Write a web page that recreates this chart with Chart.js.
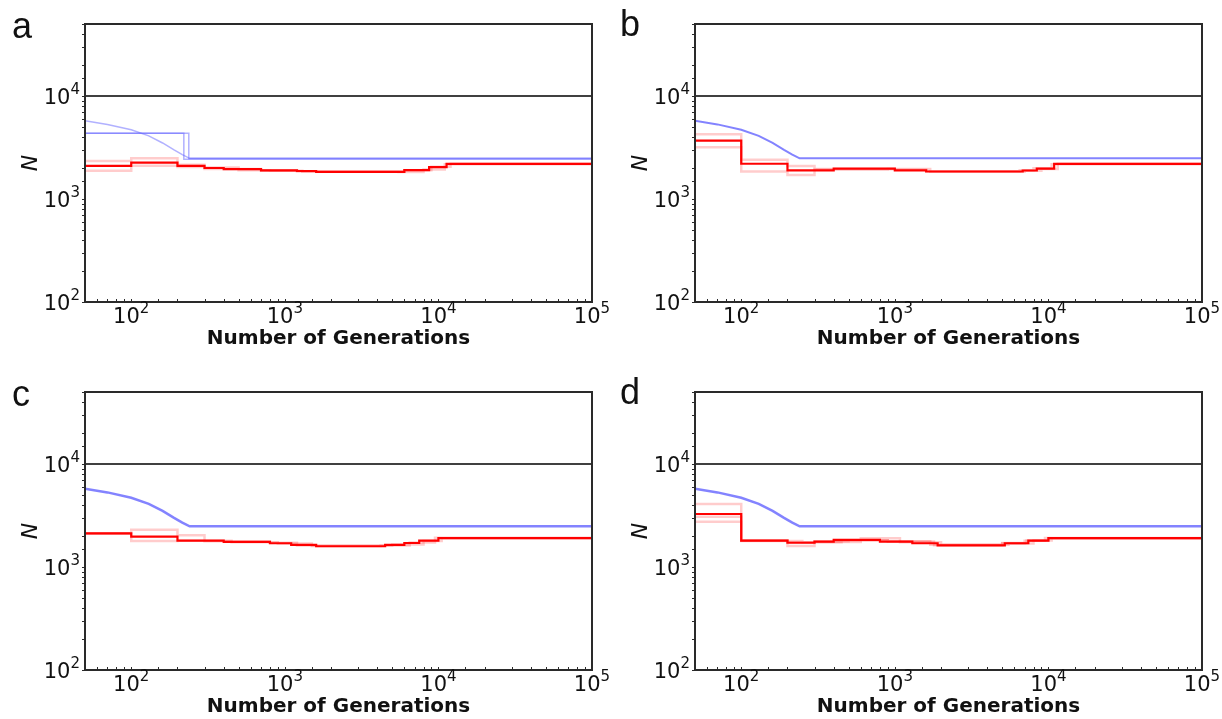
<!DOCTYPE html>
<html>
<head>
<meta charset="utf-8">
<script src="https://cdn.jsdelivr.net/npm/chart.js@4.4.1/dist/chart.umd.min.js"></script>
<style>
  body { margin: 0; background: #fff; }
  #wrap { position: relative; width: 1222px; height: 719px; overflow: hidden; }
  canvas { position: absolute; }
  .tag { position: absolute; font: 36px "Liberation Sans", Arial, sans-serif; line-height: 36px; color: #111; }
</style>
</head>
<body>
<div id="wrap">
  <canvas id="pa" width="611" height="351" style="left:0;top:0"></canvas>
  <canvas id="pb" width="611" height="351" style="left:610px;top:0"></canvas>
  <canvas id="pc" width="611" height="351" style="left:0;top:368px"></canvas>
  <canvas id="pd" width="611" height="351" style="left:610px;top:368px"></canvas>
  <div class="tag" style="left:12px;top:8px">a</div>
  <div class="tag" style="left:620px;top:6px">b</div>
  <div class="tag" style="left:12px;top:376px">c</div>
  <div class="tag" style="left:620px;top:374px">d</div>
</div>
<script>
const genMin = 50, genMax = 100000;
const nMin = 100, nMax = 50000;
const ancestralN = 10000;
const xTickPowers = [2, 3, 4, 5];
const yTickPowers = [2, 3, 4];

// true history (blue curve)
const trueGen = [50, 70, 100, 130, 160, 190, 215, 240, 100000];
const trueN = [5750, 5300, 4700, 4100, 3500, 3000, 2700, 2480, 2480];

// panel a
const aStep1Gen = [50, 220, 100000];
const aStep1N = [4350, 2430, 2430];
const aStep2Gen = [50, 237, 100000];
const aStep2N = [4350, 2470, 2470];
const aGen = [50, 100, 200, 300, 400, 700, 1200, 1600, 6000, 8700, 11300, 100000];
const aN = [2100, 2250, 2100, 2000, 1950, 1900, 1870, 1830, 1910, 2040, 2190, 2190];
const aFaint1Gen = [50, 100, 200, 300, 500, 800, 1300, 5500, 8000, 11000, 100000];
const aFaint1N = [2340, 2480, 2150, 2020, 1900, 1880, 1840, 1830, 1930, 2180, 2180];
const aFaint2Gen = [50, 100, 200, 300, 700, 1200, 6000, 9000, 12000, 100000];
const aFaint2N = [1880, 2100, 2050, 1950, 1880, 1850, 1900, 2060, 2200, 2200];

// panel b
const bGen = [50, 100, 200, 400, 1000, 1600, 6800, 8400, 10900, 100000];
const bN = [3680, 2200, 1900, 1970, 1900, 1850, 1890, 1970, 2190, 2190];
const bFaint1Gen = [50, 100, 200, 300, 1000, 1600, 6500, 8000, 10500, 100000];
const bFaint1N = [4250, 2400, 2090, 1950, 1920, 1860, 1900, 1990, 2180, 2180];
const bFaint2Gen = [50, 100, 200, 300, 900, 1700, 7000, 9000, 11500, 100000];
const bFaint2N = [3175, 1845, 1710, 1930, 1950, 1840, 1880, 1960, 2200, 2200];

// panel c
const cGen = [50, 100, 200, 400, 800, 1100, 1600, 4500, 6000, 7500, 10000, 100000];
const cN = [2120, 1970, 1800, 1750, 1700, 1640, 1590, 1640, 1710, 1800, 1910, 1910];
const cFaint1Gen = [50, 100, 200, 300, 800, 1200, 5000, 8000, 10500, 100000];
const cFaint1N = [2130, 2300, 2030, 1780, 1720, 1620, 1650, 1790, 1900, 1900];
const cFaint2Gen = [50, 100, 200, 450, 900, 1500, 4200, 6500, 9500, 100000];
const cFaint2N = [2100, 1790, 1800, 1740, 1690, 1600, 1620, 1730, 1920, 1920];

// panel d
const dGen = [50, 100, 200, 300, 400, 800, 1300, 1900, 5200, 7400, 10000, 100000];
const dN = [3270, 1800, 1720, 1760, 1830, 1760, 1700, 1625, 1700, 1800, 1910, 1910];
const dFaint1Gen = [50, 100, 200, 300, 600, 1080, 2000, 5500, 8000, 10500, 100000];
const dFaint1N = [4090, 1800, 1600, 1750, 1900, 1740, 1640, 1690, 1810, 1900, 1900];
const dFaint2Gen = [50, 100, 200, 300, 500, 900, 1800, 5000, 7000, 9500, 100000];
const dFaint2N = [2750, 1820, 1740, 1780, 1820, 1770, 1630, 1700, 1800, 1910, 1910];
const dFaint3Gen = [50, 100, 250, 450, 900, 1700, 5000, 7200, 10000, 100000];
const dFaint3N = [3080, 1790, 1740, 1820, 1780, 1640, 1710, 1810, 1900, 1900];

const RED = "#ff0000";
const PINK = "rgba(255,0,0,0.2)";
const BLUE = "rgba(100,100,255,0.8)";
const BLUE_PALE = "rgba(100,100,255,0.5)";
const TEXT = "#111";

function line(gen, n, color, width, stepped) {
  return {
    data: gen.map((g, i) => ({ x: g, y: n[i] })),
    borderColor: color,
    borderWidth: width,
    pointRadius: 0,
    fill: false,
    stepped: stepped,
  };
}

// "10" with a raised exponent
function powText(ctx, p, x, y, align) {
  ctx.font = "21px 'DejaVu Sans'";
  const w1 = ctx.measureText("10").width;
  ctx.font = "15px 'DejaVu Sans'";
  const w2 = ctx.measureText(String(p)).width;
  const x0 = align === "center" ? x - (w1 + w2) / 2 : x - w1 - w2;
  ctx.textAlign = "left";
  ctx.textBaseline = "alphabetic";
  ctx.font = "21px 'DejaVu Sans'";
  ctx.fillText("10", x0, y);
  ctx.font = "15px 'DejaVu Sans'";
  ctx.fillText(String(p), x0 + w1, y - 10);
}

const frame = {
  id: "frame",
  afterDatasetsDraw(chart) {
    const { ctx, chartArea: a } = chart;
    const x = chart.scales.x, y = chart.scales.y;
    ctx.save();
    ctx.strokeStyle = "#2a2a2a";
    ctx.lineWidth = 1;
    ctx.beginPath();
    y.ticks.forEach((t) => {
      const py = Math.round(y.getPixelForValue(t.value)) + 0.5;
      ctx.moveTo(a.left - 3, py);
      ctx.lineTo(a.left, py);
    });
    x.ticks.forEach((t) => {
      const px = Math.round(x.getPixelForValue(t.value)) + 0.5;
      ctx.moveTo(px, a.bottom);
      ctx.lineTo(px, a.bottom - 3);
    });
    ctx.stroke();
    ctx.lineWidth = 2;
    ctx.strokeRect(a.left, a.top, a.right - a.left, a.bottom - a.top);
    ctx.fillStyle = TEXT;
    xTickPowers.forEach((p) => powText(ctx, p, x.getPixelForValue(10 ** p), a.bottom + 21, "center"));
    yTickPowers.forEach((p) => powText(ctx, p, a.left - 5, y.getPixelForValue(10 ** p) + 8, "right"));
    ctx.restore();
  },
};

function panel(id, datasets) {
  new Chart(document.getElementById(id), {
    type: "line",
    data: { datasets },
    options: {
      responsive: false,
      animation: false,
      events: [],
      layout: { padding: { top: 24, right: 19, left: 0, bottom: 0 } },
      plugins: { legend: { display: false }, tooltip: { enabled: false } },
      scales: {
        x: {
          type: "logarithmic",
          min: genMin,
          max: genMax,
          grid: { display: false },
          border: { display: false },
          ticks: { display: false, autoSkip: false },
          title: {
            display: true,
            text: "Number of Generations",
            color: TEXT,
            font: { family: "DejaVu Sans", size: 20, weight: "bold" },
            padding: { top: 0, bottom: 0 },
          },
          afterFit: (s) => { s.height = 49; },
        },
        y: {
          type: "logarithmic",
          min: nMin,
          max: nMax,
          grid: { display: false },
          border: { display: false },
          ticks: { display: false, autoSkip: false },
          title: {
            display: true,
            text: "N",
            color: TEXT,
            font: { family: "DejaVu Sans", size: 22, style: "italic" },
            padding: { top: 18, bottom: 0 },
          },
          afterFit: (s) => { s.width = 85; },
        },
      },
    },
    plugins: [frame],
  });
}

const ancestral = () => line([genMin, genMax], [ancestralN, ancestralN], "#000", 1.5, false);

panel("pa", [
  line(aGen, aN, RED, 2.2, true),
  line(aFaint1Gen, aFaint1N, PINK, 2.5, true),
  line(aFaint2Gen, aFaint2N, PINK, 2.5, true),
  line(aStep1Gen, aStep1N, BLUE_PALE, 1.5, true),
  line(aStep2Gen, aStep2N, BLUE_PALE, 1.5, true),
  line(trueGen, trueN, BLUE_PALE, 1.5, false),
  ancestral(),
]);

panel("pb", [
  line(bGen, bN, RED, 2.2, true),
  line(bFaint1Gen, bFaint1N, PINK, 2.5, true),
  line(bFaint2Gen, bFaint2N, PINK, 2.5, true),
  line(trueGen, trueN, BLUE, 2, false),
  ancestral(),
]);

panel("pc", [
  line(cGen, cN, RED, 2.2, true),
  line(cFaint1Gen, cFaint1N, PINK, 2.5, true),
  line(cFaint2Gen, cFaint2N, PINK, 2.5, true),
  line(trueGen, trueN, BLUE, 2.5, false),
  ancestral(),
]);

panel("pd", [
  line(dGen, dN, RED, 2.2, true),
  line(dFaint1Gen, dFaint1N, PINK, 2.5, true),
  line(dFaint2Gen, dFaint2N, PINK, 2.5, true),
  line(dFaint3Gen, dFaint3N, PINK, 2.5, true),
  line(trueGen, trueN, BLUE, 2.5, false),
  ancestral(),
]);
</script>
</body>
</html>
